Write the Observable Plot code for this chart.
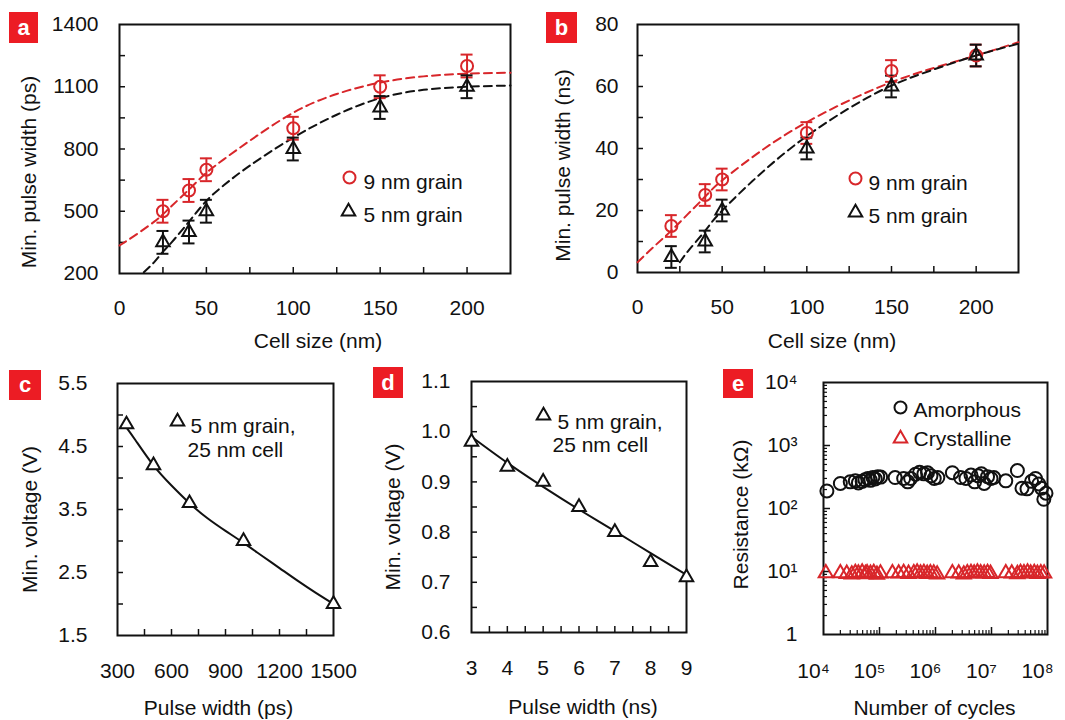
<!DOCTYPE html>
<html><head><meta charset="utf-8">
<script src="https://cdn.jsdelivr.net/npm/d3@7"></script>
<script src="https://cdn.jsdelivr.net/npm/@observablehq/plot@0.6"></script>
<style>
body{margin:0;background:#fff;}
#wrap{position:relative;width:1065px;height:720px;overflow:hidden;background:#fff;font-family:"Liberation Sans",Arial,Helvetica,sans-serif;}
.tag{position:absolute;background:#ec1c24;color:#fff;font-weight:bold;font-size:22px;text-align:center;}
</style></head><body><div id="wrap"></div>
<script>
// ---------- Panel a data ----------
const cellA = [25, 40, 50, 100, 150, 200];
const grain9A = [500, 600, 700, 900, 1100, 1200];
const grain5A = [350, 400, 500, 800, 1000, 1100];
const err9A = [55, 55, 55, 55, 55, 55];
const err5A = [55, 55, 55, 55, 55, 55];
const fit9AX = [0, 10, 20, 25, 30, 40, 50, 60, 75, 100, 125, 150, 175, 200, 225];
const fit9AY = [335, 390, 450, 485, 525, 605, 685, 750, 840, 975, 1065, 1120, 1150, 1163, 1168];
const fit5AX = [14, 20, 25, 30, 40, 50, 60, 75, 100, 125, 150, 175, 200, 225];
const fit5AY = [206, 255, 305, 350, 450, 550, 625, 720, 855, 965, 1045, 1085, 1100, 1106];
// ---------- Panel b data ----------
const cellB = [20, 40, 50, 100, 150, 200];
const grain9B = [15, 25, 30, 45, 65, 70];
const grain5B = [5, 10, 20, 40, 60, 70];
const err9B = [3.5, 3.5, 3.5, 3.5, 3.5, 3.5];
const err5B = [3.5, 3.5, 3.5, 3.5, 3.5, 3.5];
const fit9BX = [0, 10, 20, 30, 40, 50, 75, 100, 125, 150, 175, 200, 225];
const fit9BY = [3.3, 8.5, 13.5, 19, 24.5, 29.7, 40, 48.5, 55.5, 61.4, 66, 70, 74.3];
const fit5BX = [25, 30, 40, 50, 75, 100, 125, 150, 175, 200, 225];
const fit5BY = [3.3, 7, 13.5, 20, 33, 44, 53, 60.3, 65.5, 70, 73.8];
// ---------- Panel c data ----------
const pulseC = [350, 500, 700, 1000, 1500];
const voltC = [4.85, 4.2, 3.6, 3.0, 2.0];
const fitCX = [350, 400, 500, 600, 700, 800, 900, 1000, 1100, 1200, 1300, 1400, 1500];
const fitCY = [4.8, 4.6, 4.2, 3.88, 3.6, 3.36, 3.16, 2.97, 2.77, 2.57, 2.37, 2.18, 2.0];
// ---------- Panel d data ----------
const pulseD = [3, 4, 5, 6, 7, 8, 9];
const voltD = [0.98, 0.93, 0.90, 0.85, 0.80, 0.74, 0.71];
const fitDX = [3, 4, 5, 6, 7, 8, 9];
const fitDY = [0.99, 0.938, 0.89, 0.845, 0.802, 0.758, 0.715];
// ---------- Panel e data ----------
const amorX = [1.15e4, 2.0e4, 3.0e4, 3.7e4, 4.2e4, 4.9e4, 5.5e4, 6.2e4, 6.9e4, 7.6e4, 8.4e4, 9.3e4, 1.05e5,
  1.9e5, 2.7e5, 3.2e5, 3.6e5, 4.4e5, 5.2e5, 6.2e5, 7.2e5, 8.3e5, 9.5e5, 1.1e6,
  2.0e6, 2.8e6, 3.5e6, 4.3e6, 5.0e6, 5.8e6, 6.6e6, 7.4e6, 8.5e6, 9.8e6, 1.1e7,
  1.8e7, 2.9e7, 3.5e7, 4.3e7, 5.2e7, 6.1e7, 7.0e7, 7.8e7, 8.6e7, 9.4e7];
const amorY = [190, 250, 265, 275, 255, 270, 285, 300, 280, 310, 295, 320, 315,
  310, 300, 265, 300, 350, 375, 355, 370, 330, 300, 310,
  370, 310, 300, 340, 265, 330, 355, 250, 320, 300, 310,
  275, 400, 210, 205, 270, 300, 245, 210, 140, 175];
const crystX = [1.1e4, 2.0e4, 2.6e4, 3.2e4, 3.7e4, 4.2e4, 4.9e4, 5.6e4, 6.0e4, 6.9e4, 7.9e4, 9.0e4, 1.04e5,
  1.7e5, 2.2e5, 2.7e5, 3.3e5, 4.1e5, 4.7e5, 5.4e5, 6.2e5, 7.1e5, 8.1e5, 9.3e5, 1.07e6,
  2.0e6, 2.6e6, 3.2e6, 3.7e6, 4.3e6, 4.9e6, 5.6e6, 6.4e6, 7.4e6, 8.5e6, 9.6e6,
  1.8e7, 2.3e7, 2.9e7, 3.3e7, 3.8e7, 4.4e7, 5.0e7, 5.8e7, 6.6e7, 7.6e7, 8.7e7];
const crystY = [9.4, 9.4, 9.2, 9.0, 9.5, 9.3, 9.6, 9.1, 9.4, 9.2, 9.5, 8.9, 9.3,
  9.4, 9.3, 9.5, 9.2, 9.4, 9.6, 9.3, 9.5, 9.2, 9.4, 9.3, 9.0,
  9.4, 9.3, 9.0, 9.4, 9.5, 9.3, 9.6, 9.4, 9.3, 9.5, 9.2,
  9.4, 9.3, 9.1, 9.5, 9.4, 9.6, 9.3, 9.5, 9.2, 9.4, 9.3];
// ---------- Tick labels ----------
const cellTicks = [0, 50, 100, 150, 200];
const psTicksA = [200, 500, 800, 1100, 1400];
const nsTicksB = [0, 20, 40, 60, 80];
const pulseTicksC = [300, 600, 900, 1200, 1500];
const voltTicksC = [1.5, 2.5, 3.5, 4.5, 5.5];
const pulseTicksD = [3, 4, 5, 6, 7, 8, 9];
const voltTicksD = [0.6, 0.7, 0.8, 0.9, 1.0, 1.1];
const cycleTicks = [1e4, 1e5, 1e6, 1e7, 1e8];
const cycleLabels = ["10\u2074", "10\u2075", "10\u2076", "10\u2077", "10\u2078"];
const resTicks = [1, 10, 100, 1000, 10000];
const resLabels = ["1", "10\u00B9", "10\u00B2", "10\u00B3", "10\u2074"];

// ---------- helpers ----------
const FONT = '"Liberation Sans", Arial, Helvetica, sans-serif';
const RED = "#d8262a";
const INK = "#111111";
const wrap = document.getElementById("wrap");
const pts = (xs, ys) => xs.map((x, i) => ({x, y: ys[i]}));

function tag(letter, left, top, w, h) {
  const d = document.createElement("div");
  d.className = "tag"; d.textContent = letter;
  Object.assign(d.style, {left: left + "px", top: top + "px", width: w + "px", height: h + "px", lineHeight: h + "px"});
  wrap.appendChild(d);
}
function place(cfg, marks) {
  const svg = Plot.plot({
    width: cfg.width, height: cfg.height,
    marginLeft: cfg.ml, marginRight: cfg.mr, marginTop: cfg.mt, marginBottom: cfg.mb,
    x: cfg.x, y: cfg.y,
    style: {fontFamily: FONT, fontSize: "21px", color: INK, background: "transparent", overflow: "visible"},
    marks
  });
  svg.style.position = "absolute";
  svg.style.left = cfg.left + "px";
  svg.style.top = cfg.top + "px";
  wrap.appendChild(svg);
}
function errorMarks(xs, ys, errs, color, capHalf) {
  const rows = xs.map((x, i) => ({x, y: ys[i], e: errs[i]}));
  return [
    Plot.ruleX(rows, {x: "x", y1: d => d.y - d.e, y2: d => d.y + d.e, stroke: color, strokeWidth: 2}),
    Plot.ruleY(rows, {y: d => d.y + d.e, x1: d => d.x - capHalf, x2: d => d.x + capHalf, stroke: color, strokeWidth: 2}),
    Plot.ruleY(rows, {y: d => d.y - d.e, x1: d => d.x - capHalf, x2: d => d.x + capHalf, stroke: color, strokeWidth: 2})
  ];
}
function note(label, dx, dy) {
  return Plot.text([label], {frameAnchor: "top-left", dx, dy, textAnchor: "start", lineAnchor: "middle", fill: INK});
}
function legendItem(symbol, color, label, sx, sy, tx, ty) {
  return [
    Plot.dot([label], {frameAnchor: "top-left", dx: sx, dy: sy, symbol, r: symbol === "circle" ? 6 : 5, stroke: color, strokeWidth: 2, fill: "none"}),
    note(label, tx, ty)
  ];
}
function axes(o) {
  return [
    Plot.axisX(o.xMinor, {tickSize: o.xTick || -6, strokeWidth: 1.5, fill: "none", label: null}),
    Plot.axisY(o.yMinor, {tickSize: o.yTick || -6, strokeWidth: 1.5, fill: "none", label: null}),
    o.xMinor2 ? Plot.axisX(o.xMinor2, {tickSize: -4, strokeWidth: 1.2, fill: "none", label: null}) : null,
    o.yMinor2 ? Plot.axisY(o.yMinor2, {tickSize: -4, strokeWidth: 1.2, fill: "none", label: null}) : null,
    Plot.axisX(o.xMajor, {tickSize: 0, tickPadding: o.xPad, dx: o.xDx || 0, tickFormat: o.xFmt, label: null}),
    Plot.axisY(o.yMajor, {tickSize: 0, tickPadding: o.yPad, tickFormat: o.yFmt, label: null}),
    Plot.text([o.xLabel], {frameAnchor: "bottom", textAnchor: "middle", lineAnchor: "middle", dx: o.xlDx, dy: o.xlDy, fill: INK}),
    Plot.text([o.yLabel], {frameAnchor: "left", textAnchor: "middle", lineAnchor: "middle", rotate: -90, dx: o.ylDx, dy: o.ylDy, fill: INK}),
    Plot.frame({stroke: INK, strokeWidth: 2})
  ];
}
const plain = d => String(d);

// ---------- Panel a ----------
place({left: 0, top: 0, width: 540, height: 360, ml: 119, mr: 30, mt: 24, mb: 87,
  x: {domain: [0, 225]}, y: {domain: [200, 1400]}}, [
  ...axes({xMajor: cellTicks, xMinor: d3.range(25, 225, 25), yMajor: psTicksA, yMinor: d3.range(350, 1400, 150),
    xPad: 27, yPad: 21, xFmt: plain, yFmt: plain,
    xLabel: "Cell size (nm)", xlDx: 3, xlDy: 68, yLabel: "Min. pulse width (ps)", ylDx: -90, ylDy: 23}),
  Plot.line(pts(fit9AX, fit9AY), {x: "x", y: "y", stroke: RED, strokeWidth: 2, strokeDasharray: "8,5", curve: "natural"}),
  Plot.line(pts(fit5AX, fit5AY), {x: "x", y: "y", stroke: INK, strokeWidth: 2, strokeDasharray: "8,5", curve: "natural"}),
  ...errorMarks(cellA, grain9A, err9A, RED, 3.45),
  ...errorMarks(cellA, grain5A, err5A, INK, 3.45),
  Plot.dot(pts(cellA, grain9A), {x: "x", y: "y", r: 6, stroke: RED, strokeWidth: 2, fill: "none"}),
  Plot.dot(pts(cellA, grain5A), {x: "x", y: "y", symbol: "triangle", r: 5, stroke: INK, strokeWidth: 2, fill: "none"}),
  ...legendItem("circle", RED, "9 nm grain", 230, 153, 244, 158),
  ...legendItem("triangle", INK, "5 nm grain", 229, 187, 244, 191)
]);

// ---------- Panel b ----------
place({left: 540, top: 0, width: 525, height: 360, ml: 97, mr: 47, mt: 24, mb: 88,
  x: {domain: [0, 225]}, y: {domain: [0, 80]}}, [
  ...axes({xMajor: cellTicks, xMinor: d3.range(25, 225, 25), yMajor: nsTicksB, yMinor: d3.range(10, 80, 10),
    xPad: 27, yPad: 19, xFmt: plain, yFmt: plain,
    xLabel: "Cell size (nm)", xlDx: 4, xlDy: 69, yLabel: "Min. pulse width (ns)", ylDx: -74, ylDy: 17}),
  Plot.line(pts(fit9BX, fit9BY), {x: "x", y: "y", stroke: RED, strokeWidth: 2, strokeDasharray: "8,5", curve: "natural"}),
  Plot.line(pts(fit5BX, fit5BY), {x: "x", y: "y", stroke: INK, strokeWidth: 2, strokeDasharray: "8,5", curve: "natural"}),
  ...errorMarks(cellB, grain9B, err9B, RED, 3.5),
  ...errorMarks(cellB, grain5B, err5B, INK, 3.5),
  Plot.dot(pts(cellB, grain9B), {x: "x", y: "y", r: 6, stroke: RED, strokeWidth: 2, fill: "none"}),
  Plot.dot(pts(cellB, grain5B), {x: "x", y: "y", symbol: "triangle", r: 5, stroke: INK, strokeWidth: 2, fill: "none"}),
  ...legendItem("circle", RED, "9 nm grain", 218, 154, 231, 159),
  ...legendItem("triangle", INK, "5 nm grain", 218, 188, 231, 192)
]);

// ---------- Panel c ----------
place({left: 0, top: 360, width: 360, height: 360, ml: 117, mr: 27, mt: 23, mb: 85,
  x: {domain: [300, 1500]}, y: {domain: [1.5, 5.5]}}, [
  ...axes({xMajor: pulseTicksC, xMinor: d3.range(450, 1500, 150), yMajor: voltTicksC, yMinor: d3.range(2, 5.5, 0.5),
    xPad: 28, yPad: 30, xFmt: plain, yFmt: d3.format(".1f"),
    xLabel: "Pulse width (ps)", xlDx: -7, xlDy: 73, yLabel: "Min. voltage (V)", ylDx: -87, ylDy: 10}),
  Plot.line(pts(fitCX, fitCY), {x: "x", y: "y", stroke: INK, strokeWidth: 2, curve: "natural"}),
  Plot.dot(pts(pulseC, voltC), {x: "x", y: "y", symbol: "triangle", r: 5, stroke: INK, strokeWidth: 2, fill: "white"}),
  Plot.dot(["5 nm grain,"], {frameAnchor: "top-left", dx: 60, dy: 38, symbol: "triangle", r: 5, stroke: INK, strokeWidth: 2, fill: "none"}),
  note("5 nm grain,", 73, 43),
  note("25 nm cell", 70, 67)
]);

// ---------- Panel d ----------
place({left: 360, top: 360, width: 350, height: 360, ml: 111, mr: 24, mt: 21, mb: 88,
  x: {domain: [3, 9]}, y: {domain: [0.6, 1.1]}}, [
  ...axes({xMajor: pulseTicksD, xMinor: d3.range(3.5, 9, 0.5), yMajor: voltTicksD, yMinor: d3.range(0.65, 1.1, 0.05),
    xPad: 28, yPad: 21, xFmt: plain, yFmt: d3.format(".1f"),
    xLabel: "Pulse width (ns)", xlDx: 4, xlDy: 75, yLabel: "Min. voltage (V)", ylDx: -78, ylDy: 10}),
  Plot.line(pts(fitDX, fitDY), {x: "x", y: "y", stroke: INK, strokeWidth: 2, curve: "natural"}),
  Plot.dot(pts(pulseD, voltD), {x: "x", y: "y", symbol: "triangle", r: 5, stroke: INK, strokeWidth: 2, fill: "white"}),
  Plot.dot(["5 nm grain,"], {frameAnchor: "top-left", dx: 72, dy: 34, symbol: "triangle", r: 5, stroke: INK, strokeWidth: 2, fill: "none"}),
  note("5 nm grain,", 86, 41),
  note("25 nm cell", 81, 64)
]);

// ---------- Panel e ----------
const logMinor = (lo, hi) => d3.range(lo, hi).flatMap(k => d3.range(2, 10).map(m => m * 10 ** k));
place({left: 710, top: 360, width: 355, height: 360, ml: 113, mr: 18, mt: 22, mb: 86,
  x: {type: "log", domain: [1e4, 1e8]}, y: {type: "log", domain: [1, 1e4]}}, [
  ...axes({xMajor: cycleTicks, xMinor: cycleTicks.slice(1, 4), xMinor2: logMinor(4, 8), xTick: -7,
    yMajor: resTicks, yMinor: resTicks.slice(1, 4), yMinor2: logMinor(0, 4), yTick: -7,
    xPad: 29, yPad: 26, xDx: -10,
    xFmt: d => cycleLabels[cycleTicks.indexOf(d)], yFmt: d => resLabels[resTicks.indexOf(d)],
    xLabel: "Number of cycles", xlDx: -1, xlDy: 74, yLabel: "Resistance (k\u03A9)", ylDx: -82, ylDy: 6}),
  Plot.dot(pts(crystX, crystY), {x: "x", y: "y", symbol: "triangle", r: 5.3, stroke: RED, strokeWidth: 2, fill: "none"}),
  Plot.dot(pts(amorX, amorY), {x: "x", y: "y", r: 6.5, stroke: INK, strokeWidth: 2, fill: "none"}),
  ...legendItem("circle", INK, "Amorphous", 77, 25, 90, 28),
  ...legendItem("triangle", RED, "Crystalline", 77, 56, 90, 57)
]);

// ---------- panel tags ----------
tag("a", 9, 12, 29, 31);
tag("b", 546, 12, 31, 31);
tag("c", 9, 370, 32, 30);
tag("d", 373, 367, 30, 31);
tag("e", 723, 369, 30, 29);
</script></body></html>
